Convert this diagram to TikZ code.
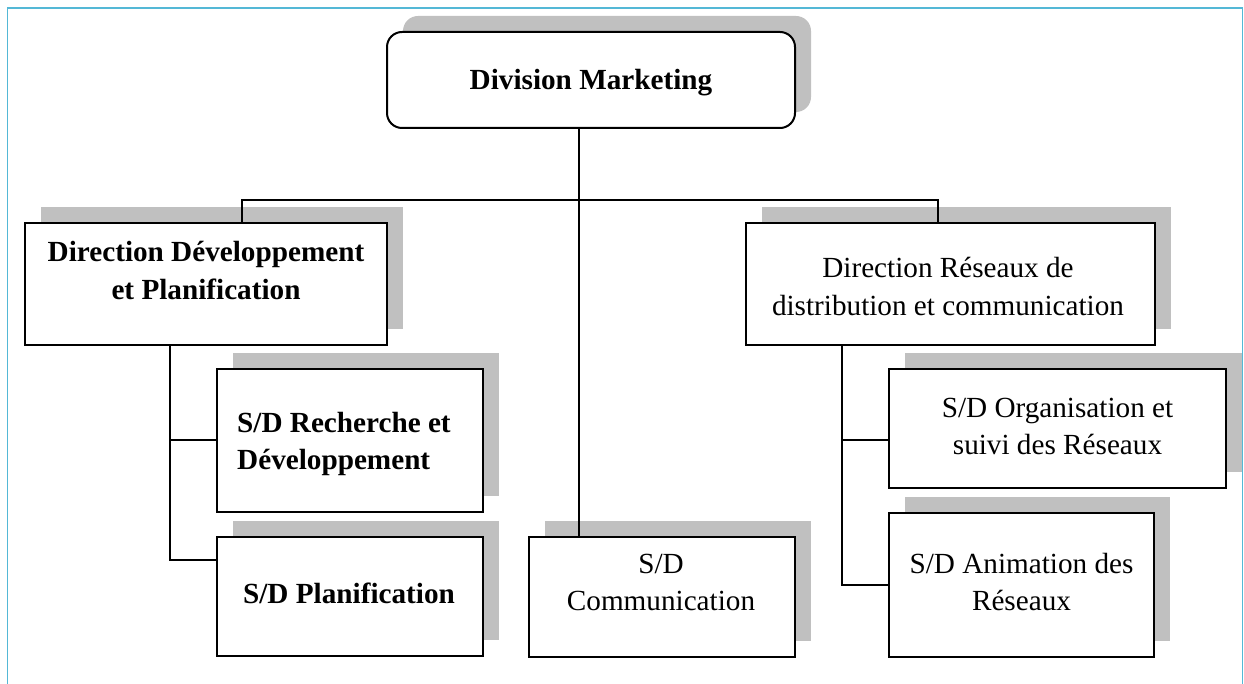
\documentclass[tikz,border=0pt]{standalone}
\usepackage{fontspec}
\setmainfont{Liberation Serif}
\usetikzlibrary{shadows}
\definecolor{framec}{RGB}{84,184,214}
\definecolor{shadowc}{RGB}{192,192,192}
\begin{document}
\begin{tikzpicture}[x=1pt,y=-1pt,
  box/.style={draw=black, line width=2pt, fill=white, inner sep=0pt,
    general shadow={fill=shadowc, shadow xshift=16pt, shadow yshift=16pt}},
  lbl/.style={anchor=base, inner sep=0pt, font=\fontsize{29.2}{37.5}\selectfont},
  conn/.style={draw=black, line width=2pt}]
\useasboundingbox (0,0) rectangle (1244,684);
\draw[framec, line width=1.8pt] (7.5,690) -- (7.5,8) -- (1242.5,8) -- (1242.5,690);

% boxes
\node[box, rounded corners=15pt, minimum width=408pt, minimum height=96pt] (dm) at (591,80) {};
\node[box, minimum width=362pt, minimum height=122pt] (dd) at (206,284) {};
\node[box, minimum width=409pt, minimum height=122pt] (dr) at (950.5,284) {};
\node[box, minimum width=266pt, minimum height=143pt] (rd) at (350,440.5) {};
\node[box, minimum width=266pt, minimum height=119pt] (pl) at (350,596.5) {};
\node[box, minimum width=266pt, minimum height=120pt] (sdc) at (662,597) {};
\node[box, minimum width=337pt, minimum height=119pt] (org) at (1057.5,428.5) {};
\node[box, minimum width=265pt, minimum height=144pt] (ani) at (1021.5,585) {};

% texts
\node[lbl] (t-dm) at (591,90) {\textbf{Division Marketing}};
\node[lbl] (t-dd) at (206,262) {\bfseries\begin{tabular}[t]{@{}c@{}}Direction Développement\\ et Planification\end{tabular}};
\node[lbl] (t-dr) at (948,278) {\begin{tabular}[t]{@{}c@{}}Direction Réseaux de\\ distribution et communication\end{tabular}};
\node[lbl, anchor=base west] (t-rd) at (237,432) {\bfseries\begin{tabular}[t]{@{}l@{}}S/D Recherche et\\ Développement\end{tabular}};
\node[lbl] (t-pl) at (349,603) {\textbf{S/D Planification}};
\node[lbl] (t-sdc) at (661,573) {\begin{tabular}[t]{@{}c@{}}S/D\\ Communication\end{tabular}};
\node[lbl] (t-org) at (1057.5,417) {\begin{tabular}[t]{@{}c@{}}S/D Organisation et\\ suivi des Réseaux\end{tabular}};
\node[lbl] (t-ani) at (1021.5,573) {\begin{tabular}[t]{@{}c@{}}S/D Animation des\\ Réseaux\end{tabular}};

% junction coordinates
\coordinate (jc) at (579,200);
\coordinate (jl) at (242,200);
\coordinate (jr) at (938,200);
\coordinate (lx1) at (170,440);
\coordinate (lx2) at (170,560);
\coordinate (rx1) at (842,440);
\coordinate (rx2) at (842,585);

% connectors
\draw[conn] (jc |- dm.south) -- (jc |- sdc.north);
\draw[conn] (jl |- dd.north) -- (jl) -- (jr) -- (jr |- dr.north);
\draw[conn] (lx1 |- dd.south) -- (lx2) -- (pl.west |- lx2);
\draw[conn] (lx1) -- (rd.west |- lx1);
\draw[conn] (rx1 |- dr.south) -- (rx2) -- (ani.west |- rx2);
\draw[conn] (rx1) -- (org.west |- rx1);
\end{tikzpicture}
\end{document}
